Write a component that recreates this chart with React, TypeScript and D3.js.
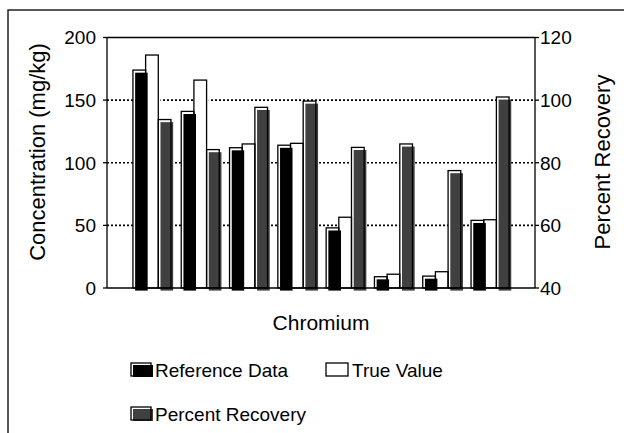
import React from 'react';
import * as d3 from 'd3';

// Chromium: reference vs true concentration, and percent recovery
const groups = ['1', '2', '3', '4', '5', '6', '7', '8'];
const referenceData = [174, 141, 112, 114, 48, 9, 9.5, 54];
const trueValue = [186, 166, 115, 115.5, 56.5, 11, 13, 54.5];
const percentRecovery = [93.8, 84.2, 97.7, 99.7, 84.9, 86, 77.5, 101];

const leftTicks = [0, 50, 100, 150, 200];
const rightTicks = [40, 60, 80, 100, 120];
const gridValues = [50, 100, 150];

const series = ['ref', 'true', 'pct'];
const seriesFill: Record<string, string> = { ref: '#000000', true: '#ffffff', pct: '#404040' };

const FONT = '"Liberation Sans", Arial, sans-serif';

const App: React.FC = () => {
  const width = 624;
  const height = 433;
  const plot = { left: 107, right: 535, top: 37.5, bottom: 288 };

  const x0 = d3.scaleBand<string>()
    .domain(groups)
    .range([plot.left, plot.right])
    .paddingInner(0.213)
    .paddingOuter(0.537);
  const x1 = d3.scaleBand<string>().domain(series).range([0, x0.bandwidth()]);

  const yLeft = d3.scaleLinear().domain([0, 200]).range([plot.bottom, plot.top]);
  const yRight = d3.scaleLinear().domain([40, 120]).range([plot.bottom, plot.top]);

  // shadow offset of the coloured fill inside each bar outline
  const dx = 2.2;
  const dy = 2.6;

  const bars = groups.flatMap((g, i) => [
    { key: `ref-${g}`, s: 'ref', x: (x0(g) ?? 0) + (x1('ref') ?? 0), y: yLeft(referenceData[i]) },
    { key: `true-${g}`, s: 'true', x: (x0(g) ?? 0) + (x1('true') ?? 0), y: yLeft(trueValue[i]) },
    { key: `pct-${g}`, s: 'pct', x: (x0(g) ?? 0) + (x1('pct') ?? 0), y: yRight(percentRecovery[i]) },
  ]);
  const bw = x1.bandwidth();

  const legendItems = [
    { label: 'Reference Data', s: 'ref', x: 131, y: 363, w: 20 },
    { label: 'True Value', s: 'true', x: 326, y: 363, w: 22 },
    { label: 'Percent Recovery', s: 'pct', x: 131, y: 407, w: 20 },
  ];

  return (
    <svg width={width} height={height} style={{ position: 'absolute', left: 0, top: 0 }}>
      <rect x={0} y={0} width={width} height={height} fill="#fff" />
      {/* outer frame, clipped on the right and bottom */}
      <rect x={8} y={10} width={800} height={600} fill="none" stroke="#000" strokeWidth={1.3} />

      {/* dotted grid */}
      {gridValues.map(v => (
        <line key={v} x1={plot.left} x2={plot.right} y1={yLeft(v)} y2={yLeft(v)}
          stroke="#000" strokeWidth={1.6} strokeDasharray="2,2" />
      ))}

      {/* bars: white backing, shifted fill, outline */}
      {bars.map(b => (
        <rect key={`bg-${b.key}`} x={b.x} y={b.y} width={bw} height={plot.bottom - b.y} fill="#fff" />
      ))}
      {bars.map(b => (
        <rect key={`f-${b.key}`} x={b.x + dx} y={b.y + dy} width={bw} height={plot.bottom - b.y}
          fill={seriesFill[b.s]} />
      ))}
      {bars.map(b => (
        <rect key={`o-${b.key}`} x={b.x} y={b.y} width={bw} height={plot.bottom - b.y}
          fill="none" stroke="#000" strokeWidth={1.3} />
      ))}

      {/* plot frame */}
      <line x1={plot.left} x2={plot.right} y1={plot.top} y2={plot.top} stroke="#000" strokeWidth={1.3} />
      <line x1={plot.left} x2={plot.right} y1={plot.bottom} y2={plot.bottom} stroke="#000" strokeWidth={1.3} />
      <line x1={plot.left} x2={plot.left} y1={plot.top} y2={plot.bottom} stroke="#000" strokeWidth={1.3} />
      <line x1={plot.right} x2={plot.right} y1={plot.top} y2={plot.bottom} stroke="#000" strokeWidth={1.3} />

      {/* left axis */}
      {leftTicks.map(t => (
        <g key={`l-${t}`} transform={`translate(${plot.left},${yLeft(t)})`}>
          <line x1={-4} x2={0} stroke="#000" strokeWidth={1.3} />
          <text x={-11} dy="0.36em" textAnchor="end" fontFamily={FONT} fontSize={19} fill="#000">{t}</text>
        </g>
      ))}
      {/* right axis */}
      {rightTicks.map(t => (
        <g key={`r-${t}`} transform={`translate(${plot.right},${yRight(t)})`}>
          <line x1={0} x2={4} stroke="#000" strokeWidth={1.3} />
          <text x={5} dy="0.36em" textAnchor="start" fontFamily={FONT} fontSize={19} fill="#000">{t}</text>
        </g>
      ))}

      <text transform={`translate(45,152) rotate(-90)`} textAnchor="middle"
        fontFamily={FONT} fontSize={22} fill="#000">Concentration (mg/kg)</text>
      <text transform={`translate(610,162) rotate(-90)`} textAnchor="middle"
        fontFamily={FONT} fontSize={22} fill="#000">Percent Recovery</text>
      <text x={(plot.left + plot.right) / 2} y={330} textAnchor="middle" fontFamily={FONT} fontSize={21}
        fill="#000">Chromium</text>

      {/* legend */}
      {legendItems.map(l => (
        <g key={l.s} transform={`translate(${l.x},${l.y})`}>
          <rect x={0} y={0} width={l.w} height={13} fill="#fff" />
          <rect x={2} y={2} width={l.w} height={12} fill={seriesFill[l.s]} />
          <rect x={0} y={0} width={l.w} height={13} fill="none" stroke="#000" strokeWidth={1.3} />
          <text x={l.w + 4} y={7} dy="0.36em" fontFamily={FONT} fontSize={19} fill="#000">{l.label}</text>
        </g>
      ))}
    </svg>
  );
};

export default App;
